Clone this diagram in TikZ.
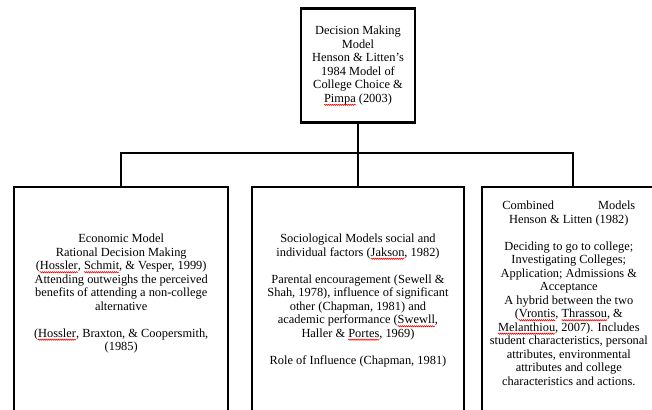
\documentclass[tikz,border=0pt]{standalone}
\usepackage{fontspec}
\setmainfont{Liberation Serif}
\usetikzlibrary{positioning, decorations.pathmorphing}

% red wavy spell-check mark under a word
\newcommand{\spellmark}[1]{\tikz[baseline=(w.base)]{\node[inner sep=0pt, outer sep=0pt, minimum width=0pt, minimum height=0pt, draw=none, align=left] (w) {#1};\draw[overlay, red, line width=0.6pt, decorate, decoration={snake, amplitude=0.6pt, segment length=2pt}] ([yshift=-2.6pt]w.base west) -- ([yshift=-2.6pt]w.base east);}}

\begin{document}
\begin{tikzpicture}[
    x=1pt, y=-1pt,
    font=\fontsize{12.4}{13.5}\selectfont,
    topbox/.style={rectangle, draw, line width=2.6pt, minimum width=114pt, minimum height=114pt, align=center, inner sep=0pt},
    box/.style={rectangle, draw, line width=1.8pt, minimum height=260pt},
    txt/.style={align=center, inner sep=0pt},
    link/.style={line width=2pt}
]
\useasboundingbox (0,0) rectangle (652,409);
\clip (0,0) rectangle (652,409);

% Top box
\node[topbox] (top) at (358,65.5) {Decision Making\\Model\\Henson \& Litten's\\1984 Model of\\College Choice \&\\\spellmark{Pimpa} (2003)};

% Model boxes
\node[box, minimum width=212pt, below=62pt of top] (soc) {};
\node[box, minimum width=214pt, left=22pt of soc] (econ) {};
\node[box, minimum width=182pt, right=16pt of soc] (comb) {};

% Box texts
\node[txt, below=48pt of econ.north] (econtxt) {Economic Model\\Rational Decision Making\\(\spellmark{Hossler}, \spellmark{Schmit}, \& Vesper, 1999)\\Attending outweighs the perceived\\benefits of attending a non-college\\alternative\\[13.5pt](\spellmark{Hossler}, Braxton, \& Coopersmith,\\(1985)};
\node[txt, below=48pt of soc.north] (soctxt) {Sociological Models social and\\individual factors (\spellmark{Jakson}, 1982)\\[13.5pt]Parental encouragement (Sewell \&\\Shah, 1978), influence of significant\\other (Chapman, 1981) and\\academic performance (\spellmark{Swewll},\\Haller \& \spellmark{Portes}, 1969)\\[13.5pt]Role of Influence (Chapman, 1981)};
\node[txt, below=15pt of comb.north, xshift=-4pt] (combtxt) {\makebox[133pt]{Combined\hfill Models}\\Henson \& Litten (1982)\\[13.5pt]Deciding to go to college;\\Investigating Colleges;\\Application; Admissions \&\\Acceptance\\A hybrid between the two\\(\spellmark{Vrontis}, \spellmark{Thrassou}, \&\\\spellmark{Melanthiou}, 2007). Includes\\student characteristics, personal\\attributes, environmental\\attributes and college\\characteristics and actions.};

% Connectors
\coordinate[below=29pt of top] (split);
\draw[link] (top) -- (split);
\draw[link] (split) -| (econ);
\draw[link] (split) -- (soc);
\draw[link] (split) -| (comb);

\end{tikzpicture}
\end{document}
